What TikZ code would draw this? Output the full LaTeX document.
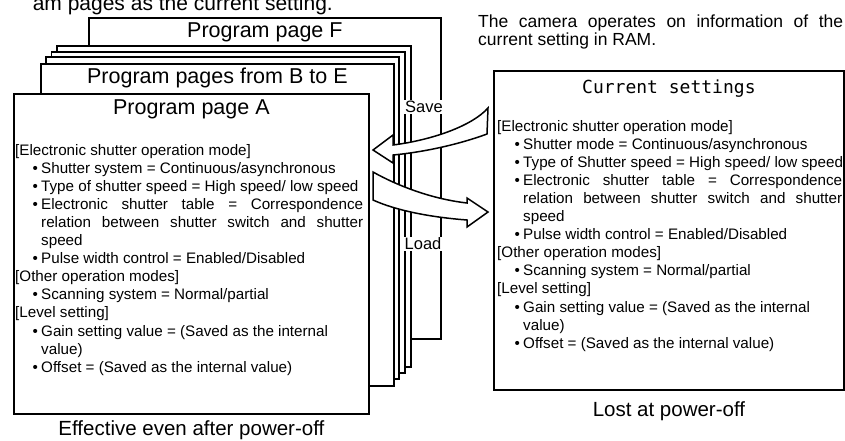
\documentclass[tikz,border=0pt]{standalone}
\usepackage{fontspec}
\setmainfont{Liberation Sans}
\newfontfamily\headfont{DejaVu Sans Mono}
\usetikzlibrary{positioning,calc}

\newcommand{\bul}{\hspace*{17.5pt}\makebox[8.5pt][l]{\textbullet}}
\newcommand{\ind}{\hspace*{26pt}}

\tikzset{
  page/.style={draw, fill=white, line width=1.8pt, inner sep=0pt},
  pagetitle/.style={font=\fontsize{21.5}{24}\selectfont, inner sep=0pt},
  body/.style={font=\fontsize{15.2}{18.1}\selectfont, inner sep=0pt, anchor=base west},
  bigarrow/.style={draw, fill=white, line width=1.5pt, line join=miter},
  tag/.style={fill=white, inner sep=1pt, font=\fontsize{16.5}{18}\selectfont},
  caption/.style={font=\fontsize{20.5}{22}\selectfont, inner sep=0pt, anchor=base},
}

\begin{document}
\begin{tikzpicture}[x=1pt, y=-1pt]
  \useasboundingbox (0,0) rectangle (845,440);

  \node[anchor=base east, inner sep=0pt, font=\fontsize{21}{24}\selectfont] (lead) at (333,10.5) {am pages as the current setting.};

  \node[page, minimum width=352pt, minimum height=321pt, anchor=north west] (pageF) at (88,17) {};
  \node[pagetitle] (titleF) at ([yshift=-15pt]pageF.north) {Program page F};

  \foreach \k in {3,2,1}
    \draw[page] ({40+5.7*\k},{63-5.7*\k}) rectangle ({393+6*\k},{385-6*\k});

  \node[page, minimum width=353pt, minimum height=322pt, anchor=north west] (pageBE) at (40,63) {};
  \node[pagetitle] (titleBE) at ([yshift=-15pt]pageBE.north) {Program pages from B to E};

  \node[page, minimum width=355pt, minimum height=320pt, anchor=north west] (pageA) at (13,93) {};
  \node[pagetitle] (titleA) at ([yshift=-16pt]pageA.north) {Program page A};

  \node[body] (textA) at (15,155) {\parbox[t]{350pt}{%
    {[}Electronic shutter operation mode]\\
    \bul Shutter system = Continuous/asynchronous\\
    \bul Type of shutter speed = High speed/ low speed\\
    \bul\makebox[322pt][s]{Electronic shutter table = Correspondence}\\
    \ind\makebox[322pt][s]{relation between shutter switch and shutter}\\
    \ind speed\\
    \bul Pulse width control = Enabled/Disabled\\
    {[}Other operation modes]\\
    \bul Scanning system = Normal/partial\\
    {[}Level setting]\\
    \bul Gain setting value = (Saved as the internal\\
    \ind value)\\
    \bul Offset = (Saved as the internal value)}};

  \draw[bigarrow] (373,150) -- (393,135) -- (393,145)
    .. controls (432,140) and (472,126) .. (488,108) -- (487,134)
    .. controls (460,144) and (425,152) .. (393,155) -- (393,163) -- cycle;
  \draw[bigarrow] (373,172) .. controls (398,186) and (432,199) .. (467,203)
    -- (467,198) -- (488,212) -- (467,227) -- (467,220)
    .. controls (428,217) and (395,210) .. (373,200) -- cycle;

  \node[tag] (save) at (424,107) {Save};
  \node[tag] (load) at (423,244) {Load};

  \node[body, font=\fontsize{17.5}{18}\selectfont] (note) at (478,27) {\parbox[t]{370pt}{%
    \makebox[365pt][s]{The camera operates on information of the}\\
    current setting in RAM.}};

  \node[page, minimum width=350pt, minimum height=319pt, anchor=north west] (ram) at (493,70) {};
  \node[anchor=base, inner sep=0pt, font=\headfont\fontsize{18}{20}\selectfont] (titleR) at ([yshift=-23pt]ram.north) {Current settings};

  \node[body] (textR) at (497,131) {\parbox[t]{348pt}{%
    {[}Electronic shutter operation mode]\\
    \bul Shutter mode = Continuous/asynchronous\\
    \bul Type of Shutter speed = High speed/ low speed\\
    \bul\makebox[319pt][s]{Electronic shutter table = Correspondence}\\
    \ind\makebox[319pt][s]{relation between shutter switch and shutter}\\
    \ind speed\\
    \bul Pulse width control = Enabled/Disabled\\
    {[}Other operation modes]\\
    \bul Scanning system = Normal/partial\\
    {[}Level setting]\\
    \bul Gain setting value = (Saved as the internal\\
    \ind value)\\
    \bul Offset = (Saved as the internal value)}};

  \node[caption] (keep) at ([yshift=-21pt]pageA.south) {Effective even after power-off};
  \node[caption] (lost) at ([yshift=-26pt]ram.south) {Lost at power-off};
\end{tikzpicture}
\end{document}
